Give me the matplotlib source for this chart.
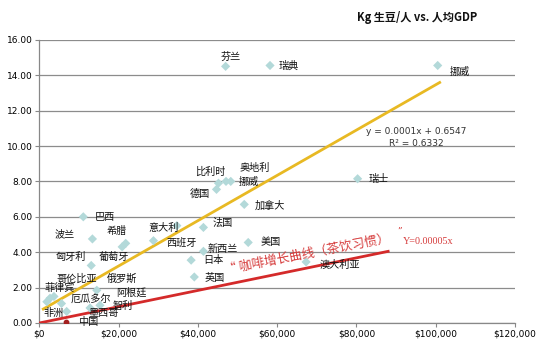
import matplotlib
matplotlib.use("Agg")
import matplotlib.pyplot as plt
import numpy as np

plt.rcParams['font.family'] = ['Noto Sans CJK SC', 'DejaVu Sans']

# ---------------- data ----------------
countries = ["芬兰", "瑞典", "挪威", "瑞士", "德国", "比利时", "奥地利", "挪威",
             "加拿大", "法国", "意大利", "西班牙", "美国", "新西兰", "日本", "英国",
             "澳大利亚", "巴西", "波兰", "希腊", "葡萄牙", "匈牙利", "俄罗斯",
             "哥伦比亚", "菲律宾", "厄瓜多尔", "非洲", "墨西哥", "智利", "阿根廷"]
gdp = [47000, 58200, 100500, 80300, 44700, 45200, 47100, 48300,
       51700, 41400, 34700, 28800, 52700, 41400, 38300, 39100,
       67300, 11100, 13400, 21800, 20900, 13100, 14500,
       2700, 1900, 5600, 6900, 12800, 15300, 3700]
kg = [14.5, 14.55, 14.55, 8.15, 7.55, 7.9, 8.0, 8.0,
      6.7, 5.4, 5.5, 4.65, 4.55, 4.05, 3.55, 2.6,
      3.45, 6.0, 4.75, 4.5, 4.3, 3.25, 1.85,
      1.4, 1.2, 1.1, 0.65, 0.85, 1.0, 1.5]

china_name = "中国"
china_gdp = 6700
china_kg = 0.05

trend_slope = 0.000128
trend_intercept = 0.66
trend_x = [1000, 101000]
trend_eq = "y = 0.0001x + 0.6547"
trend_r2 = "R² = 0.6332"

coffee_slope = 0.000046
coffee_x = [0, 88000]
coffee_text = "“ 咖啡增长曲线（茶饮习惯）"
coffee_eq = "Y=0.00005x"

title = "Kg 生豆/人 vs. 人均GDP"
x_ticks = [0, 20000, 40000, 60000, 80000, 100000, 120000]
y_ticks = [0, 2, 4, 6, 8, 10, 12, 14, 16]

# label placement (figure pixels, left edge / vertical center)
label_px = [(221, 57), (279, 66), (450, 72), (369, 179), (190, 194), (195, 172),
            (240, 168), (239, 182), (255, 206), (213, 223), (148, 228), (166, 243),
            (261, 242), (208, 249), (203, 260), (205, 278), (320, 265), (95, 217),
            (55, 234), (107, 231), (99, 257), (56, 257), (107, 279), (56, 279),
            (45, 288), (71, 299), (43, 313), (88, 313), (113, 306), (116, 293)]
china_label_px = (78, 322)

# ---------------- figure ----------------
W, H = 545, 355
fig = plt.figure(figsize=(W / 100, H / 100), dpi=100)
fig.patch.set_facecolor("white")
x0, x1, y0, y1 = 39.3, 515, 39.8, 323
ax = fig.add_axes([x0 / W, 1 - y1 / H, (x1 - x0) / W, (y1 - y0) / H])
ax.set_xlim(0, 120000)
ax.set_ylim(0, 16)

ax.set_yticks(y_ticks)
ax.set_yticklabels([f"{v:.2f}" for v in y_ticks], fontsize=6.5, family="DejaVu Sans")
ax.set_xticks(x_ticks)
ax.set_xticklabels(["$0"] + [f"${v:,}" for v in x_ticks[1:]], fontsize=6.5,
                   family="DejaVu Sans")
ax.tick_params(axis="both", length=3, width=0.8, color="#888888", pad=2)
ax.grid(axis="y", color="#8c8c8c", linewidth=0.9)
ax.set_axisbelow(True)
for s in ["top", "right"]:
    ax.spines[s].set_visible(False)
for s in ["left", "bottom"]:
    ax.spines[s].set_color("#888888")
    ax.spines[s].set_linewidth(0.9)

# trend line (yellow)
tx = np.array(trend_x)
ax.plot(tx, trend_slope * tx + trend_intercept, color="#e8b923", lw=2.0, zorder=3)
# coffee growth line (red)
cx = np.array(coffee_x)
ax.plot(cx, coffee_slope * cx, color="#d42a2a", lw=2.0, zorder=3)

# points
ax.scatter(gdp, kg, marker="D", s=22, color="#b3d9d9", edgecolors="none", zorder=4)
ax.scatter([china_gdp], [china_kg], marker="o", s=10, color="#a32020", zorder=5)

# labels
for name, (px, py) in zip(countries, label_px):
    fig.text(px / W, 1 - py / H, name, fontsize=7.3, ha="left", va="center",
             color="#111111")
fig.text(china_label_px[0] / W, 1 - china_label_px[1] / H, china_name, fontsize=7.3,
         ha="left", va="center", color="#111111")

# equation
fig.text(416 / W, 1 - 132 / H, trend_eq, fontsize=6.5, ha="center", va="center",
         color="#333333", family="DejaVu Sans")
fig.text(416 / W, 1 - 144 / H, trend_r2, fontsize=6.5, ha="center", va="center",
         color="#333333", family="DejaVu Sans")

# red annotation
fig.text(307 / W, 1 - 254 / H, coffee_text, fontsize=9.2, ha="center", va="center",
         rotation=11, color="#d63c3c")
fig.text(400 / W, 1 - 231 / H, "”", fontsize=6.5, ha="center", va="center",
         color="#d63c3c", family="DejaVu Serif")
fig.text(403 / W, 1 - 242 / H, coffee_eq, fontsize=7.3, ha="left", va="center",
         color="#d63c3c", family="Liberation Serif")

# title
fig.text(417 / W, 1 - 17 / H, title, fontsize=8, fontweight="bold", ha="center",
         va="center", color="#111111")

fig.savefig("out.png", dpi=100)
